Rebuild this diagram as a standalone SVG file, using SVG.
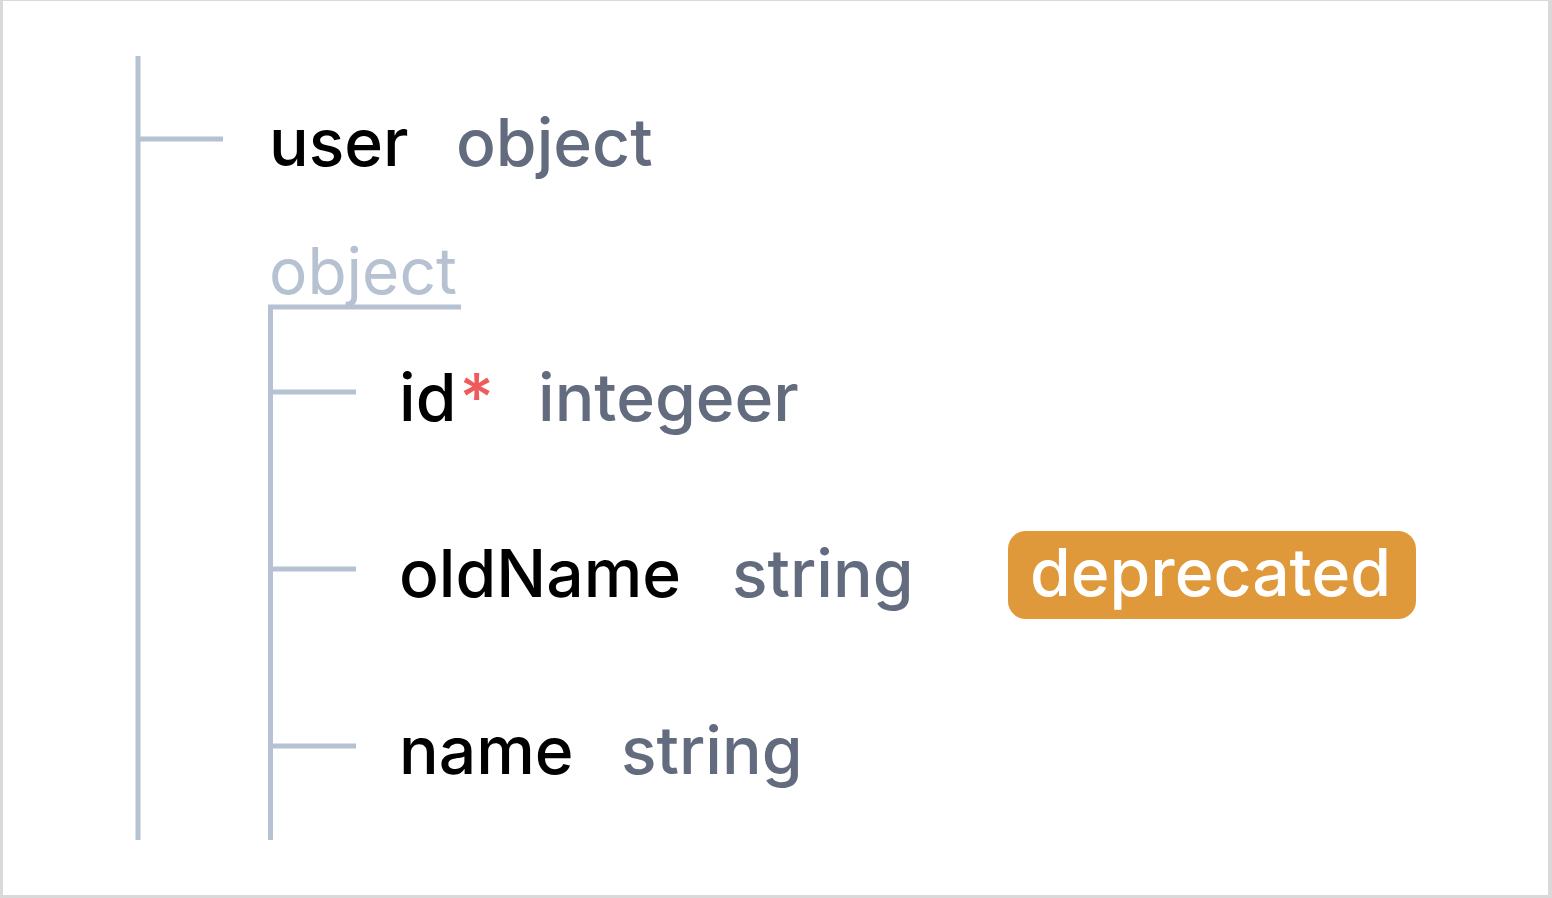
<svg xmlns="http://www.w3.org/2000/svg" width="1552" height="898" viewBox="0 0 1552 898">
<style>
text{font-family:Inter,"Noto Sans","Liberation Sans",sans-serif;font-size:66px;font-weight:500}
.n{fill:#000}
.t{fill:#636b7e}
.p{fill:#b6c1d1;font-weight:400;font-size:64px}
.r{fill:#ef5b5b}
.ln{stroke:#b6c1d1;stroke-width:5;fill:none}
</style>
<rect x="0" y="0" width="1552" height="898" fill="#d9d9d9"/>
<rect x="3" y="1" width="1545" height="894" fill="#ffffff"/>
<g id="connectors">
<line class="ln" x1="138" y1="56" x2="138" y2="840"/>
<line class="ln" x1="138" y1="139" x2="223" y2="139"/>
<path class="ln" d="M461 307 H270.5 V840"/>
<line class="ln" x1="270.5" y1="392" x2="356" y2="392"/>
<line class="ln" x1="270.5" y1="569" x2="356" y2="569"/>
<line class="ln" x1="270.5" y1="746" x2="356" y2="746"/>
</g>
<g id="user">
<text x="269" y="166" class="n">user</text>
<text x="456" y="166" class="t">object</text>
</g>
<g id="object-label">
<text x="269" y="294" class="p">object</text>
</g>
<g id="id">
<text x="399" y="421" class="n">id<tspan class="r" dx="3">*</tspan></text>
<text x="538" y="421" class="t">integeer</text>
</g>
<g id="oldName">
<text x="399" y="597" class="n">oldName</text>
<text x="732" y="597" class="t">string</text>
<rect x="1008" y="531" width="408" height="88" rx="18" fill="#e0993a"/>
<text x="1030" y="596" fill="#ffffff">deprecated</text>
</g>
<g id="name">
<text x="399" y="774" class="n">name</text>
<text x="621" y="774" class="t">string</text>
</g>
</svg>
